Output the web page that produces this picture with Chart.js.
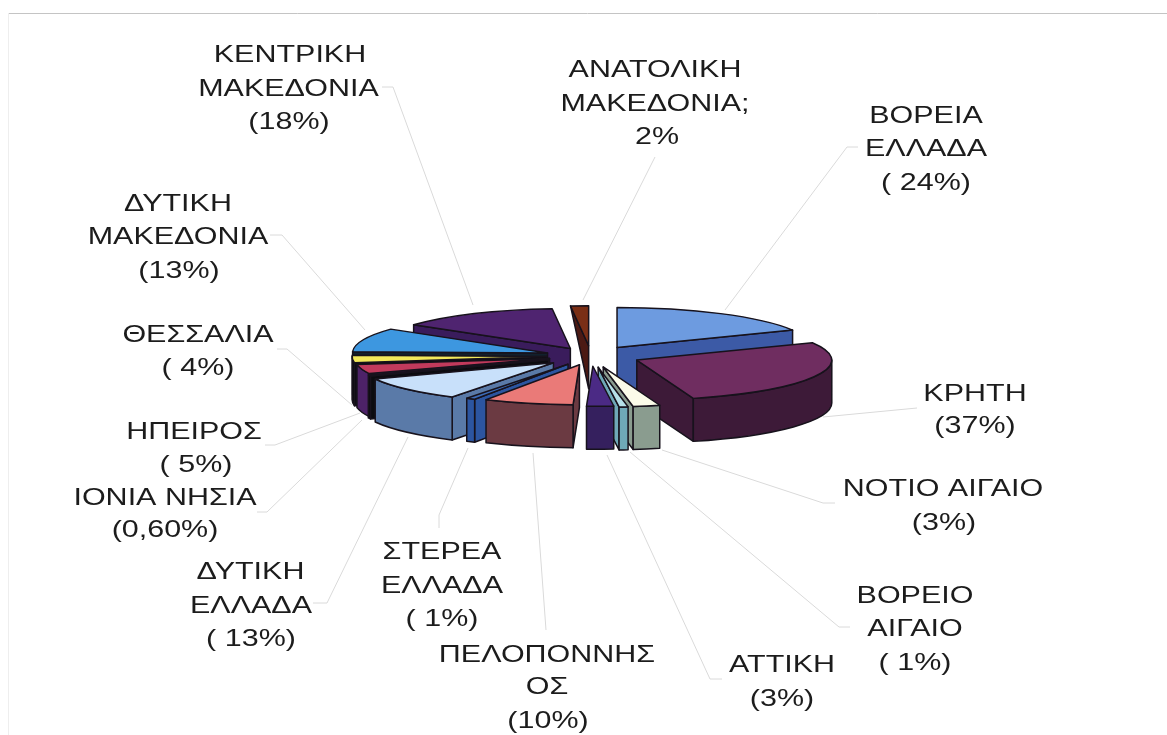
<!DOCTYPE html>
<html><head><meta charset="utf-8">
<style>html,body{margin:0;padding:0;background:#fff;overflow:hidden}#wrap{position:absolute;left:0;top:0;width:1167px;height:735px}canvas{display:block;filter:blur(0.35px)}</style>
<script src="https://cdn.jsdelivr.net/npm/chart.js@4/dist/chart.umd.min.js"></script>
</head><body><div id="wrap"><canvas id="c" width="1167" height="735"></canvas></div>
<script>
// Data, clockwise from 12 o'clock
const regions = ["ΒΟΡΕΙΑ ΕΛΛΑΔΑ","ΚΡΗΤΗ","ΝΟΤΙΟ ΑΙΓΑΙΟ","ΒΟΡΕΙΟ ΑΙΓΑΙΟ","ΑΤΤΙΚΗ","ΠΕΛΟΠΟΝΝΗΣΟΣ","ΣΤΕΡΕΑ ΕΛΛΑΔΑ","ΔΥΤΙΚΗ ΕΛΛΑΔΑ","ΙΟΝΙΑ ΝΗΣΙΑ","ΗΠΕΙΡΟΣ","ΘΕΣΣΑΛΙΑ","ΔΥΤΙΚΗ ΜΑΚΕΔΟΝΙΑ","ΚΕΝΤΡΙΚΗ ΜΑΚΕΔΟΝΙΑ","ΑΝΑΤΟΛΙΚΗ ΜΑΚΕΔΟΝΙΑ"];
const shares = [24,37,3,1,3,10,1,13,0.6,5,4,13,18,2];
const topColors = ["#6d9be0","#6f2d60","#fbfbe9","#b5e0e8","#4b2a85","#ea7a78","#3d6cb8","#c8e0fa","#20303a","#c23a5c","#f2e85a","#3d97e0","#4f2470","#7a2f16"];
const sideColors = ["#3c5aa6","#3d1a38","#8a9c8f","#6fa9b8","#35205e","#6b3a42","#2c55a0","#5a7aa8","#0c0c10","#4d2268","#0c0c10","#12202c","#3a1c5c","#4c1a14"];
const explode = [49,50,55,55,50,44,46,50,46,43,44,46,42,50];

// Label text blocks: [centre x, baseline y, text]
const labelLines = [
 [290,62,"ΚΕΝΤΡΙΚΗ"],[288.5,96,"ΜΑΚΕΔΟΝΙΑ"],[289,129,"(18%)"],
 [178,211,"ΔΥΤΙΚΗ"],[178,244,"ΜΑΚΕΔΟΝΙΑ"],[179,278,"(13%)"],
 [655,77,"ΑΝΑΤΟΛΙΚΗ"],[655,111,"ΜΑΚΕΔΟΝΙΑ;"],[657,144,"2%"],
 [926,123,"ΒΟΡΕΙΑ"],[926,156,"ΕΛΛΑΔΑ"],[926,190,"( 24%)"],
 [198,342,"ΘΕΣΣΑΛΙΑ"],[198,375,"( 4%)"],
 [194,439,"ΗΠΕΙΡΟΣ"],[196,472,"( 5%)"],
 [165,505,"ΙΟΝΙΑ ΝΗΣΙΑ"],[165,537,"(0,60%)"],
 [250.5,579,"ΔΥΤΙΚΗ"],[251,613,"ΕΛΛΑΔΑ"],[251,646,"( 13%)"],
 [442,559,"ΣΤΕΡΕΑ"],[442,593,"ΕΛΛΑΔΑ"],[442,626,"( 1%)"],
 [547,662,"ΠΕΛΟΠΟΝΝΗΣ"],[547,694,"ΟΣ"],[548,728,"(10%)"],
 [782,672,"ΑΤΤΙΚΗ"],[782,706,"(3%)"],
 [915,603,"ΒΟΡΕΙΟ"],[915,636,"ΑΙΓΑΙΟ"],[915,670,"( 1%)"],
 [943,496,"ΝΟΤΙΟ ΑΙΓΑΙΟ"],[944,530,"(3%)"],
 [975,401,"ΚΡΗΤΗ"],[975,433,"(37%)"]
];
const leaderPaths = [
 [[382,87],[393,87],[473,305]],
 [[655,157],[583,300]],
 [[858,147],[847,147],[725,310]],
 [[270,235],[282,235],[365,330]],
 [[277,349],[287,349],[352,405]],
 [[265,445],[275,445],[360,413]],
 [[257,512],[267,512],[362,420]],
 [[313,603],[327,603],[408,437]],
 [[439,528],[439,515],[468,448]],
 [[546,630],[533,453]],
 [[722,679],[710,679],[607,455]],
 [[850,627],[839,627],[630,452]],
 [[835,503],[823,503],[662,450]],
 [[917,408],[823,417]]
];

const SQUASH = 0.205, DEPTH = 43, TEXT_STRETCH = 1.27;

const pie3d = {
  id:'pie3d',
  beforeDatasetDraw(chart){
    const ctx = chart.ctx;
    const arcs = chart.getDatasetMeta(0).data;
    ctx.save();
    ctx.lineJoin='round';
    // leader lines
    ctx.strokeStyle='#dadada'; ctx.lineWidth=1;
    leaderPaths.forEach(p=>{ctx.beginPath();p.forEach((q,i)=>i?ctx.lineTo(q[0],q[1]):ctx.moveTo(q[0],q[1]));ctx.stroke();});
    // back to front
    const order = arcs.map((a,i)=>i).sort((p,q)=>{
      const mp=(arcs[p].startAngle+arcs[p].endAngle)/2, mq=(arcs[q].startAngle+arcs[q].endAngle)/2;
      return Math.sin(mp)-Math.sin(mq);
    });
    order.forEach(i=>{
      const a=arcs[i], s=a.startAngle, e=a.endAngle, R=a.outerRadius, mid=(s+e)/2;
      const d=a.options.offset;
      const cx=a.x+d*Math.cos(mid), cy=a.y+SQUASH*d*Math.sin(mid);
      const ry=R*SQUASH;
      const P=t=>[cx+R*Math.cos(t),cy+ry*Math.sin(t)];
      ctx.strokeStyle='#17121c'; ctx.lineWidth=1.5;
      ctx.fillStyle=sideColors[i];
      const outerDepth = i===13?0:DEPTH;
      const wall=(t,dd)=>{
        const p=P(t);
        ctx.beginPath();ctx.moveTo(cx,cy);ctx.lineTo(p[0],p[1]);ctx.lineTo(p[0],p[1]+dd);ctx.lineTo(cx,cy+DEPTH);ctx.closePath();ctx.fill();ctx.stroke();
      };
      if(Math.cos(s)<0) wall(s,outerDepth);
      if(Math.cos(e)>0) wall(e,outerDepth);
      const from=Math.max(s,0), to=Math.min(e,Math.PI);
      if(to>from){
        ctx.beginPath();
        ctx.ellipse(cx,cy,R,ry,0,from,to);
        ctx.ellipse(cx,cy+DEPTH,R,ry,0,to,from,true);
        ctx.closePath();ctx.fill();ctx.stroke();
      }
      ctx.fillStyle=a.options.backgroundColor;
      ctx.beginPath();ctx.moveTo(cx,cy);ctx.ellipse(cx,cy,R,ry,0,s,e);ctx.closePath();ctx.fill();ctx.stroke();
    });
    ctx.restore();
    return false;
  },
  afterDraw(chart){
    const ctx=chart.ctx;
    ctx.save();
    ctx.strokeStyle='#c4c4c4';ctx.lineWidth=1;
    ctx.beginPath();ctx.moveTo(8,13.5);ctx.lineTo(1167,13.5);ctx.stroke();
    ctx.strokeStyle='#eeeeee';
    ctx.beginPath();ctx.moveTo(8.5,13);ctx.lineTo(8.5,735);ctx.stroke();
    ctx.fillStyle='#1c1c1c';
    ctx.font='24px "Liberation Sans"';
    ctx.textAlign='center';ctx.textBaseline='alphabetic';
    labelLines.forEach(l=>{
      ctx.save();ctx.translate(l[0],l[1]);ctx.scale(TEXT_STRETCH,1);ctx.fillText(l[2],0,0);ctx.restore();
    });
    ctx.restore();
  }
};

new Chart(document.getElementById('c'),{
  type:'pie',
  data:{labels:regions,datasets:[{data:shares,backgroundColor:topColors,offset:explode,borderWidth:0}]},
  options:{
    responsive:false,animation:false,radius:195,
    layout:{padding:{left:15,bottom:23}},
    plugins:{legend:{display:false},tooltip:{enabled:false},title:{display:false}}
  },
  plugins:[pie3d]
});
</script></body></html>
